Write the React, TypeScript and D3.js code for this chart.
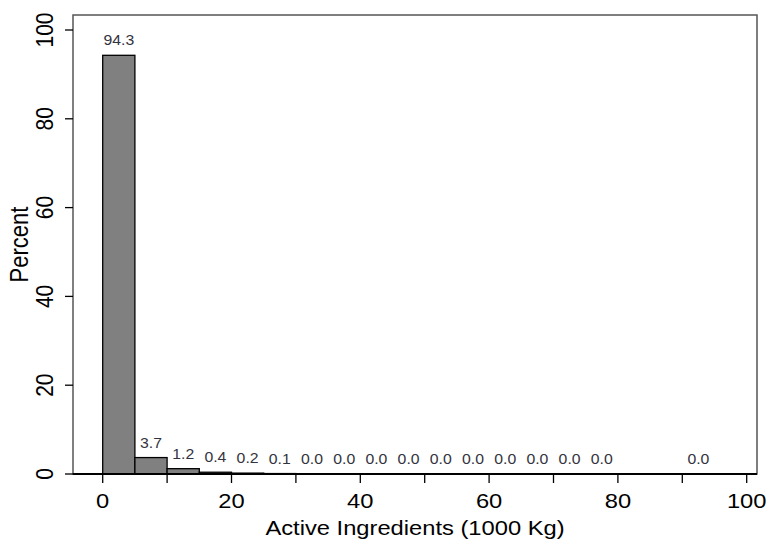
import React from 'react';
import * as d3 from 'd3';

// histogram bins (1000 Kg), width 5; null = empty bin with no label
const binStarts = [0, 5, 10, 15, 20, 25, 30, 35, 40, 45, 50, 55, 60, 65, 70, 75, 80, 85, 90, 95];
const percents: (number | null)[] = [
  94.3, 3.7, 1.2, 0.4, 0.2, 0.1, 0.0, 0.0, 0.0, 0.0,
  0.0, 0.0, 0.0, 0.0, 0.0, 0.0, null, null, 0.0, null,
];
const xTicks = [0, 10, 20, 30, 40, 50, 60, 70, 80, 90, 100];
const xLabels = [0, 20, 40, 60, 80, 100];
const yTicks = [0, 20, 40, 60, 80, 100];

const font = 'Liberation Sans, Arial, sans-serif';
const stretch = 1.13; // the source image is a bit wider than tall

// horizontal text, slightly stretched like the reference
const HText = ({ x, y, size, fill = '#000', children }: any) => (
  <text
    transform={`translate(${x},${y}) scale(${stretch},1)`}
    textAnchor='middle'
    fontFamily={font}
    fontSize={size}
    fill={fill}
  >
    {children}
  </text>
);

const App = () => {
  const width = 769;
  const height = 544;
  const box = { left: 73, right: 757, top: 15, bottom: 474 };
  const binWidth = 5;

  const x = d3.scaleLinear().domain([0, 100]).range([102.7, 746.7]);
  const y = d3.scaleLinear().domain([0, 100]).range([474, 30]);

  return (
    <svg
      width={width}
      height={height}
      style={{ position: 'absolute', left: 0, top: 0, background: '#fff' }}
    >
      {/* bars */}
      {binStarts.map((b, i) => {
        const v = percents[i];
        if (v === null || v === 0) return null;
        return (
          <rect
            key={'bar' + i}
            x={x(b)}
            y={y(v)}
            width={x(b + binWidth) - x(b)}
            height={y(0) - y(v)}
            fill='#808080'
            stroke='#000'
            strokeWidth={1.3}
          />
        );
      })}

      {/* bar labels */}
      {binStarts.map((b, i) => {
        const v = percents[i];
        if (v === null) return null;
        return (
          <HText key={'lab' + i} x={x(b + binWidth / 2)} y={y(v) - 10} size={14} fill='#333340'>
            {v.toFixed(1)}
          </HText>
        );
      })}

      {/* plot box */}
      <rect
        x={box.left}
        y={box.top}
        width={box.right - box.left}
        height={box.bottom - box.top}
        fill='none'
        stroke='#555'
        strokeWidth={1.5}
      />
      <line x1={box.left} x2={box.right} y1={y(0)} y2={y(0)} stroke='#000' strokeWidth={2} />

      {/* y axis */}
      {yTicks.map((t) => (
        <g key={'yt' + t}>
          <line x1={box.left - 8} x2={box.left} y1={y(t)} y2={y(t)} stroke='#000' strokeWidth={1.3} />
          <text
            transform={`translate(53,${y(t)}) rotate(-90) scale(1,${stretch})`}
            textAnchor='middle'
            fontFamily={font}
            fontSize={21}
            fill='#000'
          >
            {t}
          </text>
        </g>
      ))}
      <text
        transform={`translate(28,${(box.top + box.bottom) / 2}) rotate(-90) scale(1,${stretch})`}
        textAnchor='middle'
        fontFamily={font}
        fontSize={22}
        fill='#000'
      >
        Percent
      </text>

      {/* x axis */}
      {xTicks.map((t) => (
        <line key={'xt' + t} x1={x(t)} x2={x(t)} y1={y(0)} y2={y(0) + 9} stroke='#000' strokeWidth={1.3} />
      ))}
      {xLabels.map((t) => (
        <HText key={'xl' + t} x={x(t)} y={508} size={21}>
          {t}
        </HText>
      ))}
      <HText x={415} y={535} size={21}>
        Active Ingredients (1000 Kg)
      </HText>
    </svg>
  );
};

export default App;
